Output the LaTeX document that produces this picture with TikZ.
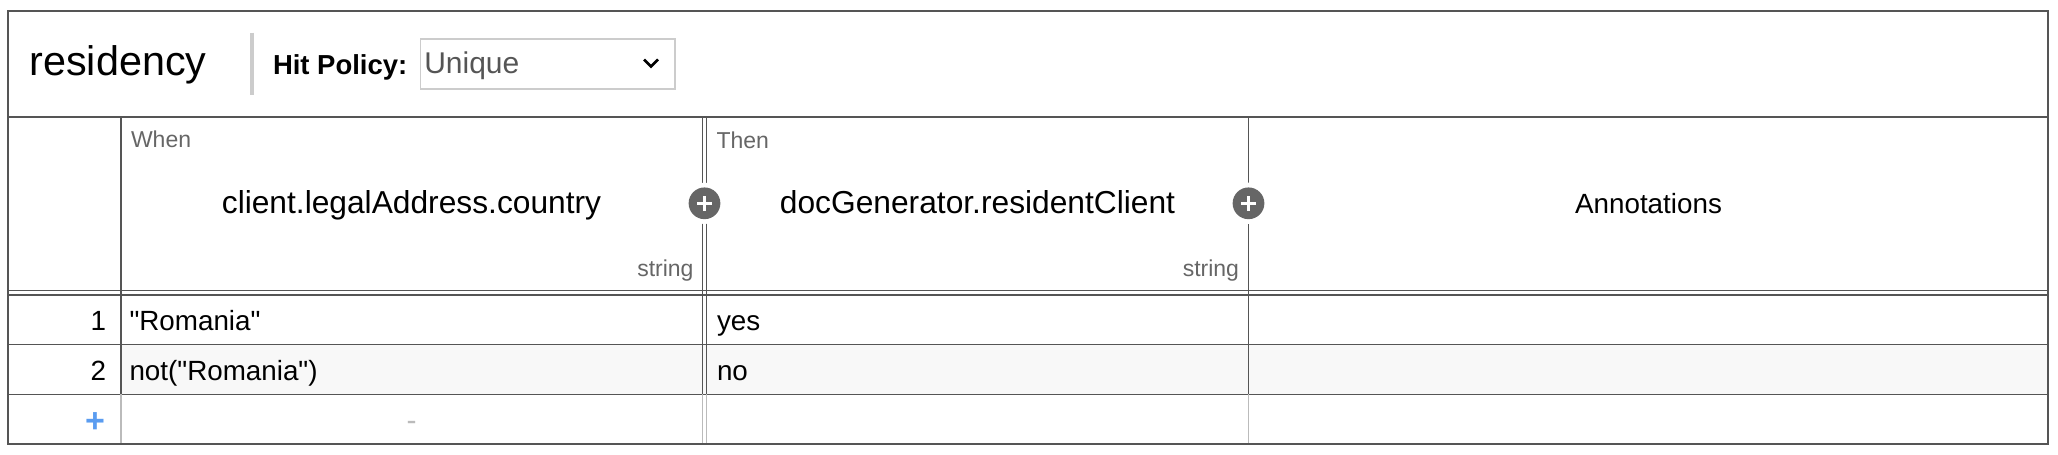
\documentclass[tikz,border=0pt]{standalone}
\usepackage{fontspec}
\setmainfont{Liberation Sans}
\definecolor{borderc}{HTML}{555555}
\definecolor{lightline}{HTML}{BBBBBB}
\definecolor{sepgray}{HTML}{CCCCCC}
\definecolor{labelgray}{HTML}{666666}
\definecolor{rowfill}{HTML}{F8F8F8}
\definecolor{plusgray}{HTML}{666666}
\definecolor{addblue}{HTML}{5A9CF0}
\definecolor{valgray}{HTML}{555555}
\newcommand\fsz[1]{\fontsize{#1}{#1}\selectfont}
\newcommand\sq{\textquotedbl}
\begin{document}
\begin{tikzpicture}[x=0.75pt,y=-0.75pt,
  txt/.style={inner sep=0pt,outer sep=0pt},
  titletxt/.style={txt,font=\fsz{31pt}},
  hittxt/.style={txt,font=\fsz{20.6pt}\bfseries},
  policytxt/.style={txt,font=\fsz{22.5pt},text=valgray},
  smalltxt/.style={txt,font=\fsz{17.25pt},text=labelgray},
  headtxt/.style={txt,font=\fsz{23.8pt}},
  annottxt/.style={txt,font=\fsz{20.85pt}},
  celltxt/.style={txt,font=\fsz{20.85pt}},
  darkline/.style={draw=borderc,line width=1.2pt},
  thinline/.style={draw=borderc,line width=1pt},
  paleline/.style={draw=lightline,line width=1.2pt}]
\useasboundingbox (0,0) rectangle (2058,454);
% row 2 background
\fill[rowfill] (121,344.3) rectangle (2048,394.3);
% title area
\draw[sepgray,line width=3pt] (251.7,32.7) -- (251.7,95);
\draw[sepgray,line width=1.1pt] (420.7,39) rectangle (675,89);
\draw[black,line width=2.1pt] (644,59.5) -- (651,66.5) -- (658,59.5);
% horizontal lines
\draw[darkline] (8.3,116.7) -- (2048,116.7);
\draw[thinline] (8.3,290.7) -- (2048,290.7);
\draw[thinline] (8.3,295) -- (2048,295);
\draw[darkline] (8.3,344.3) -- (2048,344.3);
\draw[darkline] (8.3,394.3) -- (2048,394.3);
% vertical lines
\draw[darkline] (121,116.7) -- (121,394.3);
\draw[paleline] (121,394.3) -- (121,444.3);
\draw[thinline] (702.3,116.7) -- (702.3,394.3);
\draw[thinline] (706.7,116.7) -- (706.7,394.3);
\draw[draw=lightline,line width=1pt] (702.3,394.3) -- (702.3,444.3);
\draw[draw=lightline,line width=1pt] (706.7,394.3) -- (706.7,444.3);
\draw[darkline] (1248.5,116.7) -- (1248.5,394.3);
\draw[paleline] (1248.5,394.3) -- (1248.5,444.3);
% outer border
\draw[borderc,line width=1.5pt] (8.3,11) rectangle (2048,444.3);
% add-column buttons
\foreach \cx in {704.5,1248.5}{
  \fill[white] (\cx,203.3) circle[radius=15.5pt];
  \fill[plusgray] (\cx,203.3) circle[radius=11.9pt];
  \draw[white,line width=2.3pt] (\cx-7.3,203.3) -- (\cx+7.3,203.3);
  \draw[white,line width=2.3pt] (\cx,196) -- (\cx,210.6);
}
% texts
\node[titletxt,anchor=base west] (title) at (29.5,75) {residency};
\node[hittxt,anchor=base west] (hitlabel) at (273,74) {Hit Policy:};
\node[policytxt,anchor=base west] (policy) at (424.3,73.5) {Unique};
\node[smalltxt,anchor=base west] (when) at (131,147.3) {When};
\node[smalltxt,anchor=base west] (then) at (716.5,148) {Then};
\node[headtxt,anchor=base] (colin) at (411.5,213.5) {client.legalAddress.country};
\node[headtxt,anchor=base] (colout) at (977.5,213.5) {docGenerator.residentClient};
\node[annottxt,anchor=base] (annot) at (1648.5,213.3) {Annotations};
\node[smalltxt,anchor=base east] (strin) at (693.5,276.5) {string};
\node[smalltxt,anchor=base east] (strout) at (1239,276.5) {string};
\node[celltxt,anchor=base east] (n1) at (106,330) {1};
\node[celltxt,anchor=base west] (r1in) at (129.5,330) {\sq Romania\sq};
\node[celltxt,anchor=base west] (r1out) at (717,330) {yes};
\node[celltxt,anchor=base east] (n2) at (106,380) {2};
\node[celltxt,anchor=base west] (r2in) at (129.5,380) {not(\sq Romania\sq)};
\node[celltxt,anchor=base west] (r2out) at (717,380) {no};
\node[txt,font=\fsz{25.5pt}\bfseries,text=addblue,anchor=base] (addrow) at (95,432.7) {+};
\node[txt,font=\fsz{22.5pt},text=lightline,anchor=base] (dash) at (411.7,430.9) {-};
\end{tikzpicture}
\end{document}
